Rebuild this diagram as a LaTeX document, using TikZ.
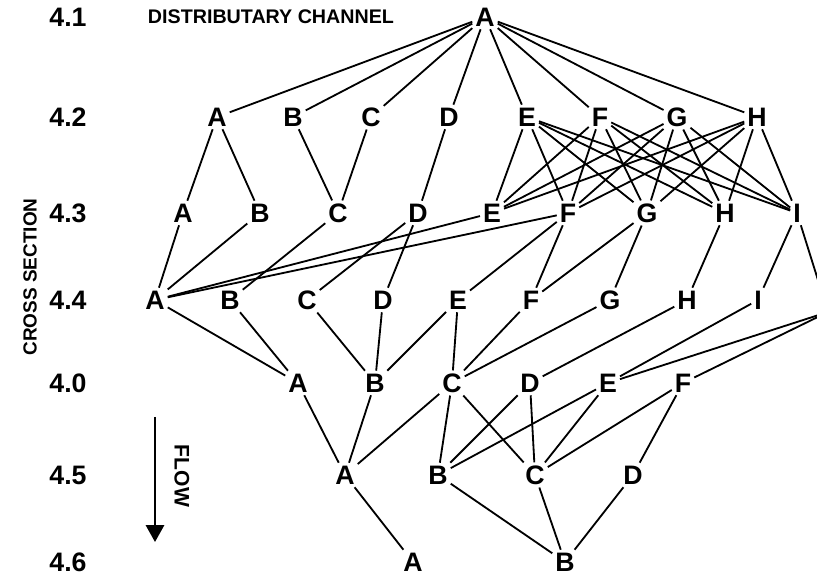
\documentclass[tikz,border=0pt]{standalone}
\usepackage{fontspec}
\setmainfont{Liberation Sans}
\usetikzlibrary{arrows.meta}

\begin{document}
\begin{tikzpicture}[
  lbl/.style={font=\fontsize{19}{19}\selectfont\bfseries,inner sep=2pt},
  rowlbl/.style={font=\fontsize{19}{19}\selectfont\bfseries},
  link/.style={line width=1.3pt},
]
\useasboundingbox (0,0) rectangle (20.425,14.5);
\clip (0,0) rectangle (20.425,14.5);

\node[rowlbl] (r41) at (1.7,14.075) {4.1};
\node[rowlbl] (r42) at (1.7,11.575) {4.2};
\node[rowlbl] (r43) at (1.7,9.175) {4.3};
\node[rowlbl] (r44) at (1.7,7.0) {4.4};
\node[rowlbl] (r40) at (1.7,4.925) {4.0};
\node[rowlbl] (r45) at (1.7,2.625) {4.5};
\node[rowlbl] (r46) at (1.7,0.45) {4.6};
\node[font=\fontsize{14}{14}\selectfont\bfseries] (chan) at (6.775,14.075) {DISTRIBUTARY CHANNEL};
\node[font=\fontsize{13.5}{13.5}\selectfont\bfseries,rotate=90] (xsec) at (0.75,7.575) {CROSS SECTION};
\node[font=\fontsize{15}{15}\selectfont\bfseries,rotate=-90] (flow) at (4.55,2.6) {FLOW};
\coordinate (flowtop) at (3.875,4.075);
\coordinate (flowend) at (3.875,0.95);
\draw[line width=1.4pt,-{Triangle[width=13pt,length=12pt]}] (flowtop) -- (flowend);

\node[lbl] (A41) at (12.125,14.075) {A};

\node[lbl] (A42) at (5.425,11.575) {A};
\node[lbl] (B42) at (7.325,11.575) {B};
\node[lbl] (C42) at (9.275,11.575) {C};
\node[lbl] (D42) at (11.225,11.575) {D};
\node[lbl] (E42) at (13.175,11.575) {E};
\node[lbl] (F42) at (15.0,11.575) {F};
\node[lbl] (G42) at (16.925,11.575) {G};
\node[lbl] (H42) at (18.925,11.575) {H};

\node[lbl] (A43) at (4.575,9.175) {A};
\node[lbl] (B43) at (6.5,9.175) {B};
\node[lbl] (C43) at (8.45,9.175) {C};
\node[lbl] (D43) at (10.45,9.175) {D};
\node[lbl] (E43) at (12.3,9.175) {E};
\node[lbl] (F43) at (14.2,9.175) {F};
\node[lbl] (G43) at (16.175,9.175) {G};
\node[lbl] (H43) at (18.125,9.175) {H};
\node[lbl] (I43) at (19.925,9.175) {I};

\node[lbl] (A44) at (3.875,7.0) {A};
\node[lbl] (B44) at (5.75,7.0) {B};
\node[lbl] (C44) at (7.675,7.0) {C};
\node[lbl] (D44) at (9.575,7.0) {D};
\node[lbl] (E44) at (11.45,7.0) {E};
\node[lbl] (F44) at (13.275,7.0) {F};
\node[lbl] (G44) at (15.25,7.0) {G};
\node[lbl] (H44) at (17.175,7.0) {H};
\node[lbl] (I44) at (18.95,7.0) {I};
\coordinate (J44) at (20.7,6.7);

\node[lbl] (A40) at (7.45,4.925) {A};
\node[lbl] (B40) at (9.375,4.925) {B};
\node[lbl] (C40) at (11.3,4.925) {C};
\node[lbl] (D40) at (13.25,4.925) {D};
\node[lbl] (E40) at (15.2,4.925) {E};
\node[lbl] (F40) at (17.075,4.925) {F};

\node[lbl] (A45) at (8.625,2.625) {A};
\node[lbl] (B45) at (10.95,2.625) {B};
\node[lbl] (C45) at (13.375,2.625) {C};
\node[lbl] (D45) at (15.825,2.625) {D};

\node[lbl] (A46) at (10.325,0.45) {A};
\node[lbl] (B46) at (14.125,0.45) {B};

\foreach \n in {A,B,C,D,E,F,G,H}
  \draw[link] (A41) -- (\n42);

\draw[link] (A42) -- (A43);
\draw[link] (A42) -- (B43);
\draw[link] (B42) -- (C43);
\draw[link] (C42) -- (C43);
\draw[link] (D42) -- (D43);
\foreach \u in {E,F,G,H}
  \foreach \v in {E,F,G,H,I}
    \draw[link] (\u42) -- (\v43);

\draw[link] (A43) -- (A44);
\draw[link] (B43) -- (A44);
\draw[link] (C43) -- (B44);
\draw[link] (D43) -- (C44);
\draw[link] (D43) -- (D44);
\draw[link] (E43) -- (A44);
\draw[link] (F43) -- (A44);
\draw[link] (F43) -- (E44);
\draw[link] (F43) -- (F44);
\draw[link] (G43) -- (F44);
\draw[link] (G43) -- (G44);
\draw[link] (H43) -- (H44);
\draw[link] (I43) -- (I44);
\draw[link] (I43) -- (J44);

\draw[link] (A44) -- (A40);
\draw[link] (B44) -- (A40);
\draw[link] (C44) -- (B40);
\draw[link] (D44) -- (B40);
\draw[link] (E44) -- (B40);
\draw[link] (E44) -- (C40);
\draw[link] (F44) -- (C40);
\draw[link] (G44) -- (C40);
\draw[link] (H44) -- (D40);
\draw[link] (I44) -- (E40);
\draw[link] (J44) -- (E40);
\draw[link] (J44) -- (F40);

\draw[link] (A40) -- (A45);
\draw[link] (B40) -- (A45);
\draw[link] (C40) -- (A45);
\draw[link] (C40) -- (B45);
\draw[link] (C40) -- (C45);
\draw[link] (D40) -- (B45);
\draw[link] (D40) -- (C45);
\draw[link] (E40) -- (B45);
\draw[link] (E40) -- (C45);
\draw[link] (F40) -- (C45);
\draw[link] (F40) -- (D45);

\draw[link] (A45) -- (A46);
\draw[link] (B45) -- (B46);
\draw[link] (C45) -- (B46);
\draw[link] (D45) -- (B46);

\end{tikzpicture}
\end{document}
